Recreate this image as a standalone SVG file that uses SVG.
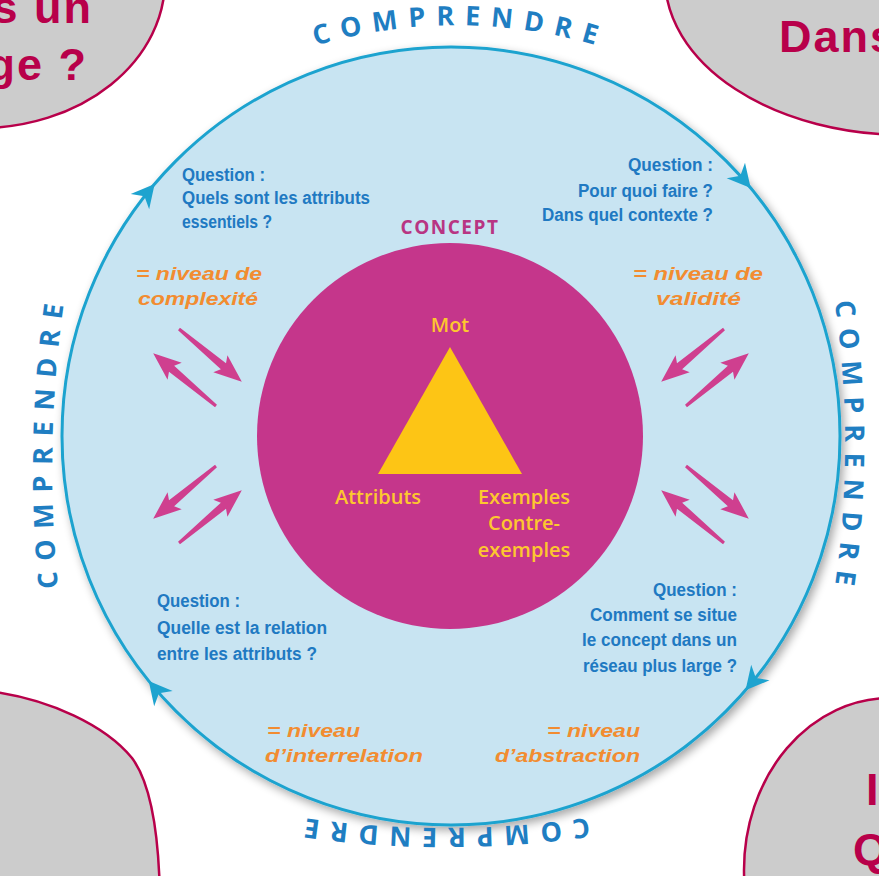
<svg xmlns="http://www.w3.org/2000/svg" xmlns:xlink="http://www.w3.org/1999/xlink" width="879" height="876" viewBox="0 0 879 876">
<style>
.ell{fill:#cccccc;stroke:#b8004a;stroke-width:2.5}
.elt{font-family:"Liberation Sans",Arial,sans-serif;font-weight:bold;font-size:45px;fill:#b8004a;letter-spacing:2px}
.cmp{font-family:"Open Sans","Liberation Sans",sans-serif;font-weight:bold;font-size:27px;fill:#1f7ec2;letter-spacing:10.5px}
.q{font-family:"Liberation Sans",Arial,sans-serif;font-weight:bold;font-size:18px;fill:#2079c2}
.o{font-family:"Liberation Sans",Arial,sans-serif;font-weight:bold;font-style:italic;font-size:19px;fill:#f28c30}
.y{font-family:"Open Sans","Liberation Sans",sans-serif;font-weight:600;font-size:20px;fill:#fdc72f;text-anchor:middle}
.pa{fill:#cf3f8f}
.ah{fill:#1ea3cf}
</style>
<defs>
<filter id="sh" x="-10%" y="-10%" width="120%" height="120%">
<feGaussianBlur in="SourceAlpha" stdDeviation="5"/>
<feOffset dx="3" dy="4" result="b"/>
<feComponentTransfer><feFuncA type="linear" slope="0.35"/></feComponentTransfer>
<feMerge><feMergeNode/><feMergeNode in="SourceGraphic"/></feMerge>
</filter>
<path id="cah" d="M 4 0 L -19 -12 L -12 0 L -19 12 Z"/>
<path id="parr" d="M 0 -1.5 L 58 -4 L 54 -11 L 82 0 L 54 11 L 58 4 L 0 1.5 Z"/>
<path id="pTop" d="M 17 286 A 500 500 0 0 1 895 286"/>
<path id="pRight" d="M 711 -55 A 1000 1000 0 0 1 711 945"/>
<path id="pBottom" d="M 945 694 A 1000 1000 0 0 1 -55 694"/>
<path id="pLeft" d="M 213 1070 A 1200 1200 0 0 1 213 -130"/>
</defs>
<rect width="879" height="876" fill="#ffffff"/>

<g id="cycle">
<circle cx="451" cy="436" r="389" fill="#c8e4f2" stroke="#1ea3cf" stroke-width="3" filter="url(#sh)"/>
</g>

<g id="comprendre-labels" class="cmp">
<text text-anchor="middle"><textPath href="#pTop" xlink:href="#pTop" startOffset="50.4%">COMPRENDRE</textPath></text>
<text text-anchor="middle"><textPath href="#pRight" xlink:href="#pRight" startOffset="50.3%">COMPRENDRE</textPath></text>
<text text-anchor="middle"><textPath href="#pBottom" xlink:href="#pBottom" startOffset="50.3%">COMPRENDRE</textPath></text>
<text text-anchor="middle"><textPath href="#pLeft" xlink:href="#pLeft" startOffset="52.3%">COMPRENDRE</textPath></text>
</g>

<g id="connectors">
<g id="cycle-arrowheads" class="ah">
<use href="#cah" xlink:href="#cah" transform="translate(152.1 187) rotate(-50.2)"/>
<use href="#cah" xlink:href="#cah" transform="translate(748.1 184.9) rotate(49.8)"/>
<use href="#cah" xlink:href="#cah" transform="translate(748.1 687.1) rotate(130.2)"/>
<use href="#cah" xlink:href="#cah" transform="translate(151.3 684) rotate(230.4)"/>
</g>
<g id="double-arrows" class="pa">
<use href="#parr" xlink:href="#parr" transform="translate(179 329) rotate(40)"/>
<use href="#parr" xlink:href="#parr" transform="translate(216 406) rotate(220)"/>
<use href="#parr" xlink:href="#parr" transform="translate(724 329) rotate(140)"/>
<use href="#parr" xlink:href="#parr" transform="translate(686 406) rotate(-40)"/>
<use href="#parr" xlink:href="#parr" transform="translate(179 543) rotate(-40)"/>
<use href="#parr" xlink:href="#parr" transform="translate(216 466) rotate(140)"/>
<use href="#parr" xlink:href="#parr" transform="translate(724 543) rotate(220)"/>
<use href="#parr" xlink:href="#parr" transform="translate(686 466) rotate(40)"/>
</g>
</g>

<g id="concept">
<text x="450" y="234" text-anchor="middle" font-family="Open Sans, Liberation Sans, sans-serif" font-weight="bold" font-size="19" letter-spacing="1.5" fill="#b83583">CONCEPT</text>
<circle cx="450" cy="436" r="193" fill="#c5368b"/>
<polygon points="450,347 378,474 522,474" fill="#fdc515"/>
<text class="y" x="450" y="332">Mot</text>
<text class="y" x="378" y="504">Attributs</text>
<text class="y" x="524" y="504">Exemples</text>
<text class="y" x="524" y="530">Contre-</text>
<text class="y" x="524" y="557">exemples</text>
</g>

<g id="q-attributs">
<text class="q" x="182" y="181" textLength="83" lengthAdjust="spacingAndGlyphs">Question :</text>
<text class="q" x="182" y="204" textLength="188" lengthAdjust="spacingAndGlyphs">Quels sont les attributs</text>
<text class="q" x="182" y="228" textLength="90" lengthAdjust="spacingAndGlyphs">essentiels ?</text>
<text class="o" x="136" y="280" textLength="126" lengthAdjust="spacingAndGlyphs">= niveau de</text>
<text class="o" x="138" y="305" textLength="120" lengthAdjust="spacingAndGlyphs">complexité</text>
</g>

<g id="q-contexte">
<text class="q" x="713" y="171" text-anchor="end" textLength="85" lengthAdjust="spacingAndGlyphs">Question :</text>
<text class="q" x="713" y="197" text-anchor="end" textLength="135" lengthAdjust="spacingAndGlyphs">Pour quoi faire ?</text>
<text class="q" x="713" y="221" text-anchor="end" textLength="171" lengthAdjust="spacingAndGlyphs">Dans quel contexte ?</text>
<text class="o" x="633" y="280" textLength="130" lengthAdjust="spacingAndGlyphs">= niveau de</text>
<text class="o" x="656" y="305" textLength="85" lengthAdjust="spacingAndGlyphs">validité</text>
</g>

<g id="q-relation">
<text class="q" x="157" y="607" textLength="83" lengthAdjust="spacingAndGlyphs">Question :</text>
<text class="q" x="157" y="634" textLength="170" lengthAdjust="spacingAndGlyphs">Quelle est la relation</text>
<text class="q" x="157" y="660" textLength="160" lengthAdjust="spacingAndGlyphs">entre les attributs ?</text>
<text class="o" x="267" y="737" textLength="93" lengthAdjust="spacingAndGlyphs">= niveau</text>
<text class="o" x="265" y="762" textLength="158" lengthAdjust="spacingAndGlyphs">d’interrelation</text>
</g>

<g id="q-reseau">
<text class="q" x="737" y="596" text-anchor="end" textLength="84" lengthAdjust="spacingAndGlyphs">Question :</text>
<text class="q" x="737" y="621" text-anchor="end" textLength="147" lengthAdjust="spacingAndGlyphs">Comment se situe</text>
<text class="q" x="737" y="646" text-anchor="end" textLength="155" lengthAdjust="spacingAndGlyphs">le concept dans un</text>
<text class="q" x="737" y="672" text-anchor="end" textLength="154" lengthAdjust="spacingAndGlyphs">réseau plus large ?</text>
<text class="o" x="640" y="737" text-anchor="end" textLength="93" lengthAdjust="spacingAndGlyphs">= niveau</text>
<text class="o" x="640" y="762" text-anchor="end" textLength="145" lengthAdjust="spacingAndGlyphs">d’abstraction</text>
</g>

<g id="bubble-top-left">
<ellipse class="ell" cx="-20" cy="-20" rx="185" ry="148"/>
<text class="elt" x="93" y="23" text-anchor="end">s un</text>
<text class="elt" x="88" y="80" text-anchor="end">ge ?</text>
</g>
<g id="bubble-top-right">
<ellipse class="ell" cx="905" cy="-22" rx="240" ry="157"/>
<text class="elt" x="779" y="52">Dans</text>
</g>
<g id="bubble-bottom-left">
<path class="ell" d="M -5 692 C 50 700 105 725 132 758 C 150 782 159 830 160 900 L -5 900 Z"/>
</g>
<g id="bubble-bottom-right">
<ellipse class="ell" cx="890" cy="870" rx="146" ry="172"/>
<text class="elt" x="866" y="805">I</text>
<text class="elt" x="853" y="865">Q</text>
</g>
</svg>
